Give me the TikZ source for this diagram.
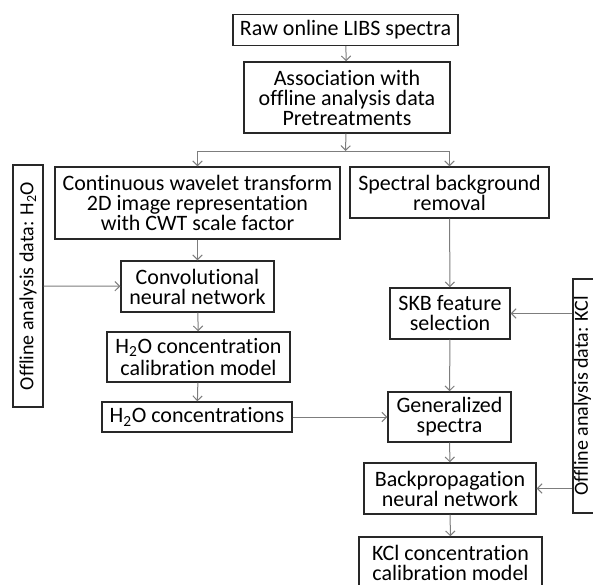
\documentclass[tikz,border=0pt]{standalone}
\usepackage{fontspec}
\setmainfont{Carlito}[Ligatures=NoCommon]
\usetikzlibrary{arrows.meta}

\tikzset{every picture/.style={line width=0.75pt}}
\tikzset{
  box/.style={draw={rgb, 255:red, 40; green, 40; blue, 40}, line width=1.1pt, align=center, inner sep=0pt, font=\fontsize{16.5}{15}\selectfont},
  sidebox/.style={box, rotate=90, font=\fontsize{15}{15}\selectfont},
  flow/.style={draw={rgb, 255:red, 125; green, 125; blue, 125}, line width=0.75pt, -{Straight Barb[length=3.5pt,width=7pt]}}
}

\begin{document}
\begin{tikzpicture}[x=0.75pt,y=0.75pt,yscale=-1,xscale=1]
\useasboundingbox (0,0) rectangle (593,585);
\clip (0,0) rectangle (593,585);

%Shape: Rectangle [id:raw]
\node [box, minimum width=168.75pt, minimum height=23.25pt] (raw) at (345.5,30) {Raw online LIBS spectra};
%Shape: Rectangle [id:assoc]
\node [box, minimum width=154.5pt, minimum height=53.25pt] (assoc) at (347,97.5) {Association with\\offline analysis data\\Pretreatments};
%Shape: Rectangle [id:cwt]
\node [box, minimum width=213.75pt, minimum height=54pt] (cwt) at (197.5,203) {Continuous wavelet transform\\2D image representation\\with CWT scale factor};
%Shape: Rectangle [id:sbr]
\node [box, minimum width=149.25pt, minimum height=38.25pt] (sbr) at (449.5,192.5) {Spectral background\\removal};
%Shape: Rectangle [id:offh2o]
\node [sidebox, minimum width=181.5pt, minimum height=22.5pt] (offh2o) at (28,286) {Offline analysis data: H\textsubscript{2}O};
%Shape: Rectangle [id:cnn]
\node [box, minimum width=114.75pt, minimum height=38.25pt] (cnn) at (197.5,286.5) {Convolutional\\neural network};
%Shape: Rectangle [id:h2ocal]
\node [box, font=\fontsize{16.5}{16.5}\selectfont, minimum width=137.25pt, minimum height=37.5pt] (h2ocal) at (198.5,357) {H\textsubscript{2}O concentration\\calibration model};
%Shape: Rectangle [id:h2oconc]
\node [box, minimum width=142.5pt, minimum height=22.5pt] (h2oconc) at (197,417) {H\textsubscript{2}O concentrations};
%Shape: Rectangle [id:skb]
\node [box, minimum width=90pt, minimum height=38.25pt] (skb) at (450,313.5) {SKB feature\\selection};
%Shape: Rectangle [id:offkcl]
\node [sidebox, text depth=9pt, minimum width=175.5pt, minimum height=21pt] (offkcl) at (587,396) {Offline analysis data: KCl};
%Shape: Rectangle [id:gen]
\node [box, minimum width=92.25pt, minimum height=37.5pt] (gen) at (449.5,417) {Generalized\\spectra};
%Shape: Rectangle [id:bp]
\node [box, minimum width=129pt, minimum height=38.25pt] (bp) at (450,488.5) {Backpropagation\\neural network};
%Shape: Rectangle [id:kclcal]
\node [box, minimum width=137.25pt, minimum height=39pt] (kclcal) at (450.5,563) {KCl concentration\\calibration model};

%Split points
\coordinate (split) at (345.5,151);
\coordinate (splitl) at (cwt.north |- split);
\coordinate (splitr) at (sbr.north |- split);

%Straight Lines
\draw [flow] (raw) -- (assoc);
\draw [flow] (assoc) -- (split);
\draw [flow, -] (splitl) -- (splitr);
\draw [flow] (splitl) -- (cwt);
\draw [flow] (splitr) -- (sbr);
\draw [flow] (cwt) -- (cnn);
\draw [flow] (offh2o.south) -- (cnn);
\draw [flow] (cnn) -- (h2ocal);
\draw [flow] (h2ocal) -- (h2oconc);
\draw [flow] (sbr) -- (skb);
\draw [flow] (offkcl.north |- skb) -- (skb);
\draw [flow] (skb) -- (gen);
\draw [flow] (h2oconc) -- (gen);
\draw [flow] (gen) -- (bp);
\draw [flow] (offkcl.north |- bp) -- (bp);
\draw [flow] (bp) -- (kclcal);

\end{tikzpicture}
\end{document}
